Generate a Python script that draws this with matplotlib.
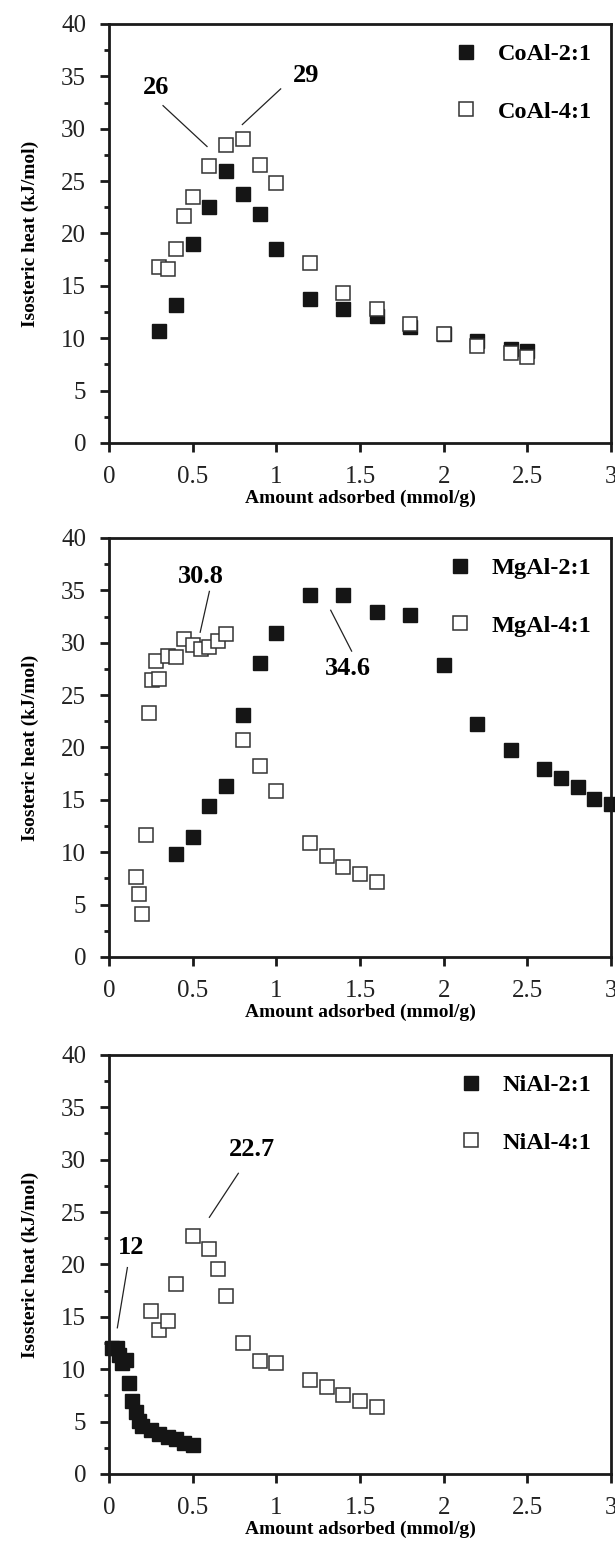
import numpy as np
import matplotlib
matplotlib.use("Agg")
import matplotlib.pyplot as plt
from matplotlib.ticker import MultipleLocator

plt.rcParams['font.family'] = ['Liberation Serif', 'DejaVu Serif']

# --- CoAl panel
co21_x = [0.3, 0.4, 0.5, 0.6, 0.7, 0.8, 0.9, 1.0, 1.2, 1.4, 1.6, 1.8, 2.0, 2.2, 2.4, 2.5]
co21_y = [10.7, 13.2, 19.0, 22.5, 26.0, 23.8, 21.9, 18.5, 13.7, 12.8, 12.1, 11.1, 10.4, 9.7, 9.0, 8.8]
co41_x = [0.3, 0.35, 0.4, 0.45, 0.5, 0.6, 0.7, 0.8, 0.9, 1.0, 1.2, 1.4, 1.6, 1.8, 2.0, 2.2, 2.4, 2.5]
co41_y = [16.8, 16.6, 18.5, 21.7, 23.5, 26.4, 28.4, 29.0, 26.5, 24.8, 17.2, 14.3, 12.8, 11.4, 10.4, 9.3, 8.6, 8.2]

# --- MgAl panel
mg21_x = [0.4, 0.5, 0.6, 0.7, 0.8, 0.9, 1.0, 1.2, 1.4, 1.6, 1.8, 2.0, 2.2, 2.4, 2.6, 2.7, 2.8, 2.9, 3.0]
mg21_y = [9.8, 11.5, 14.4, 16.3, 23.1, 28.1, 30.9, 34.6, 34.6, 32.9, 32.6, 27.9, 22.2, 19.8, 17.9, 17.1, 16.2, 15.1, 14.6]
mg41_x = [0.16, 0.18, 0.2, 0.22, 0.24, 0.26, 0.28, 0.3, 0.35, 0.4, 0.45, 0.5, 0.55, 0.6, 0.65, 0.7,
          0.8, 0.9, 1.0, 1.2, 1.3, 1.4, 1.5, 1.6]
mg41_y = [7.6, 6.0, 4.1, 11.6, 23.3, 26.4, 28.3, 26.5, 28.7, 28.6, 30.4, 29.8, 29.4, 29.6, 30.2, 30.8,
          20.7, 18.2, 15.8, 10.9, 9.6, 8.6, 7.9, 7.2]

# --- NiAl panel
ni21_x = [0.02, 0.05, 0.06, 0.08, 0.1, 0.12, 0.14, 0.16, 0.18, 0.2, 0.25, 0.3, 0.35, 0.4, 0.45, 0.5]
ni21_y = [12.0, 12.0, 11.4, 10.6, 10.9, 8.7, 7.0, 5.9, 5.1, 4.6, 4.2, 3.8, 3.5, 3.3, 3.0, 2.8]
ni41_x = [0.25, 0.3, 0.35, 0.4, 0.5, 0.6, 0.65, 0.7, 0.8, 0.9, 1.0, 1.2, 1.3, 1.4, 1.5, 1.6]
ni41_y = [15.6, 13.7, 14.6, 18.1, 22.7, 21.5, 19.6, 17.0, 12.5, 10.8, 10.6, 9.0, 8.3, 7.5, 7.0, 6.4]

# peak labels: (text, text x, text y, line from, line to)
co_notes = [("26", 0.28, 33.9, (0.323, 32.2), (0.586, 28.3)),
            ("29", 1.18, 35.1, (1.026, 33.8), (0.797, 30.4))]
mg_notes = [("30.8", 0.55, 36.3, (0.60, 34.9), (0.545, 31.0)),
            ("34.6", 1.43, 27.5, (1.325, 33.1), (1.45, 29.2))]
ni_notes = [("12", 0.13, 21.6, (0.11, 19.7), (0.05, 13.95)),
            ("22.7", 0.855, 31.0, (0.773, 28.7), (0.60, 24.5))]

panels = [
    ("CoAl-2:1", co21_x, co21_y, "CoAl-4:1", co41_x, co41_y, co_notes),
    ("MgAl-2:1", mg21_x, mg21_y, "MgAl-4:1", mg41_x, mg41_y, mg_notes),
    ("NiAl-2:1", ni21_x, ni21_y, "NiAl-4:1", ni41_x, ni41_y, ni_notes),
]

fig = plt.figure(figsize=(6.15, 15.45), dpi=100)
bottoms = [0.7133, 0.3806, 0.0460]
bold = {'family': 'Liberation Serif', 'weight': 'bold'}

for (lab_a, xa, ya, lab_b, xb, yb, notes), b in zip(panels, bottoms):
    ax = fig.add_axes([0.1772, b, 0.8163, 0.2712])
    ax.plot(xa, ya, 's', color='#151515', ms=9.5, mec='#151515', label=lab_a, clip_on=False)
    ax.plot(xb, yb, 's', mfc='white', mec='#333333', mew=1.1, ms=9.5, label=lab_b, clip_on=False)
    ax.set_xlim(0, 3)
    ax.set_ylim(0, 40)
    ax.yaxis.set_major_locator(MultipleLocator(5))
    ax.yaxis.set_minor_locator(MultipleLocator(2.5))
    ax.set_xticks(np.arange(0, 3.01, 0.5))
    ax.set_xticklabels(['0', '0.5', '1', '1.5', '2', '2.5', '3'])
    for s in ax.spines.values():
        s.set_linewidth(2.0)
        s.set_color('#1a1a1a')
    ax.tick_params(which='major', direction='out', length=6.5, width=2.0, labelsize=18,
                   pad=10, colors='#1a1a1a', labelcolor='#222222')
    ax.tick_params(axis='y', which='minor', direction='out', length=3.8, width=2.0, colors='#1a1a1a')
    ax.set_xlabel('Amount adsorbed (mmol/g)', fontdict=dict(bold, size=14))
    ax.set_ylabel('Isosteric heat (kJ/mol)', fontdict=dict(bold, size=14))
    ax.xaxis.set_label_coords(0.5, -0.112)
    ax.yaxis.set_label_coords(-0.14, 0.5)
    for txt, tx, ty, p0, p1 in notes:
        ax.text(tx, ty, txt, ha='center', va='center', fontsize=19, **bold)
        ax.plot([p0[0], p1[0]], [p0[1], p1[1]], color='#222222', lw=0.9)
    ax.legend(loc='upper right', bbox_to_anchor=(1.0, 1.0), frameon=False, numpoints=1,
              prop=dict(bold, size=17.5), handlelength=0.6, handletextpad=1.0,
              labelspacing=1.45, borderaxespad=0.4)

fig.savefig('out.png', dpi=100)
